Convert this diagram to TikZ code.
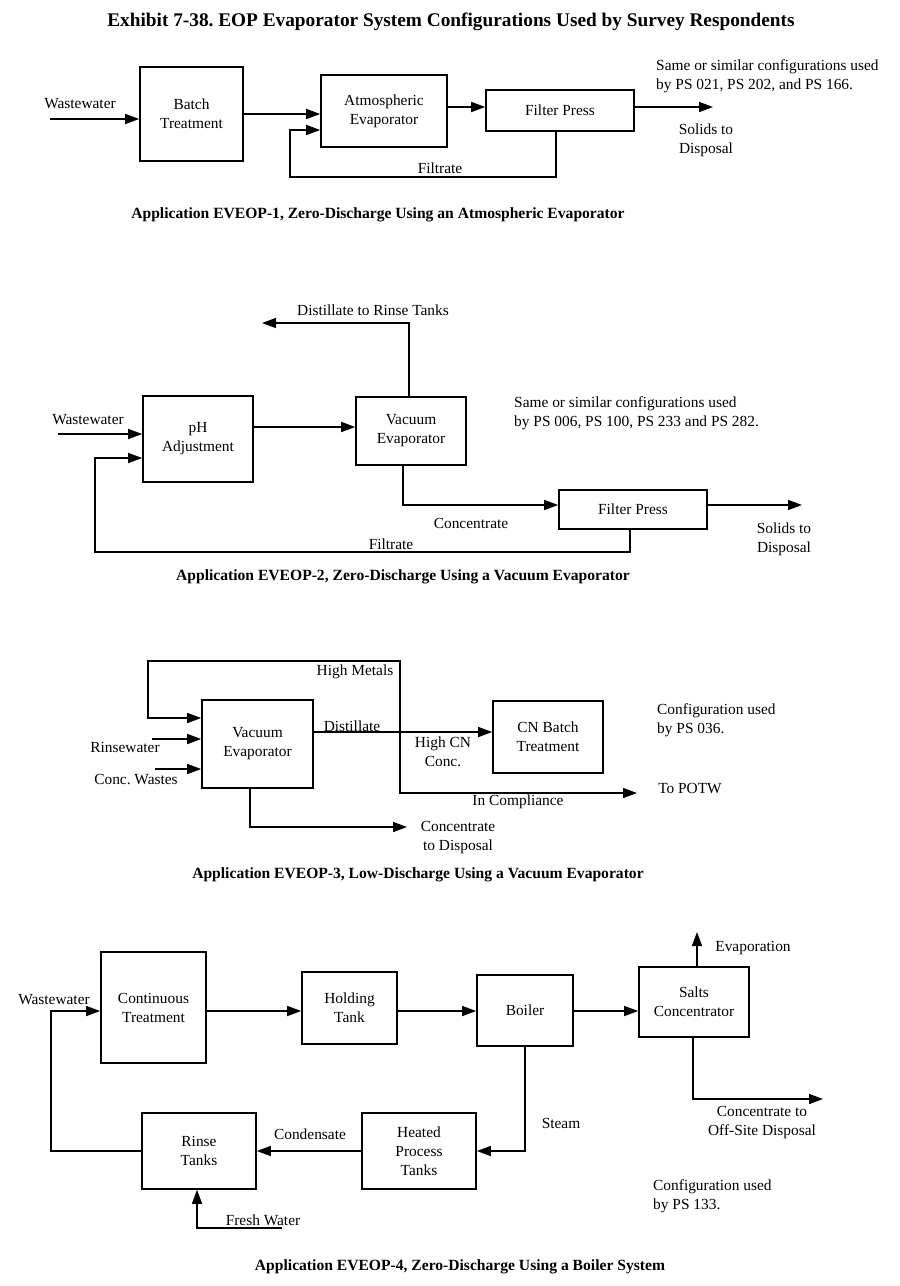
\documentclass[tikz,border=0pt]{standalone}
\usepackage{fontspec}
\setmainfont{Liberation Serif}
\usetikzlibrary{arrows.meta}
\usetikzlibrary{positioning}
\frenchspacing

\begin{document}
\begin{tikzpicture}[x=1pt,y=-1pt,
  font=\fontsize{15.4}{19}\selectfont,
  box/.style={draw,line width=1.6pt,align=center,inner sep=0pt},
  lbl/.style={inner sep=0pt,align=center},
  note/.style={inner sep=0pt,align=left,anchor=west},
  captxt/.style={inner sep=0pt,font=\fontsize{15.6}{18}\selectfont\bfseries},
  arr/.style={line width=1.5pt,-{Triangle[length=14pt,width=10pt]}}]
\useasboundingbox (0,0) rectangle (900,1286);

\node[captxt,font=\fontsize{19.3}{22}\selectfont\bfseries] (title) at (451,22)
  {Exhibit 7-38. EOP Evaporator System Configurations Used by Survey Respondents};

% EVEOP-1
\node[box,minimum width=103pt,minimum height=94pt] (batch) at (191.5,114) {Batch\\Treatment};
\node[box,minimum width=126pt,minimum height=72pt] (atmos) at (384,111) {Atmospheric\\Evaporator};
\node[box,minimum width=148pt,minimum height=41pt] (filt1) at (560,110.5) {Filter Press};
\coordinate (ww1) at (50,119);
\coordinate (sol1) at (713,107);
\coordinate (fb1) at (290,177);
\node[lbl] (ww1t) at (80,104) {Wastewater};
\node[lbl] (fil1t) at (440,168) {Filtrate};
\node[lbl] (sol1t) at (706,140) {Solids to\\Disposal};
\node[note] (ps1) at (656,76.5) {Same or similar configurations used\\by PS 021, PS 202, and PS 166.};
\node[captxt] (cap1) at (378,215) {Application EVEOP-1, Zero-Discharge Using an Atmospheric Evaporator};
\draw[arr] (ww1) -- (ww1 -| batch.west);
\draw[arr] (batch.east) -- (batch.east -| atmos.west);
\draw[arr] (atmos.east |- sol1) -- (filt1.west |- sol1);
\draw[arr] (filt1.east |- sol1) -- (sol1);
\draw[arr] ([xshift=-4pt]filt1.south) |- (fb1) |- ([yshift=-19pt]atmos.west);

% EVEOP-2
\node[box,minimum width=110pt,minimum height=86pt] (ph) at (198,439) {pH\\Adjustment};
\node[box,minimum width=110pt,minimum height=68pt] (vac2) at (411,431) {Vacuum\\Evaporator};
\node[box,minimum width=148pt,minimum height=39pt] (filt2) at (633,509.5) {Filter Press};
\coordinate (ww2) at (58,434);
\coordinate (dist2) at (262,323);
\coordinate (sol2) at (802,505);
\coordinate (fb2) at (95,552);
\node[lbl] (ww2t) at (88,420) {Wastewater};
\node[lbl] (dist2t) at (373,310) {Distillate to Rinse Tanks};
\node[lbl] (con2t) at (471,523) {Concentrate};
\node[lbl] (fil2t) at (391,544) {Filtrate};
\node[lbl] (sol2t) at (784,539) {Solids to\\Disposal};
\node[note] (ps2) at (514,413.5) {Same or similar configurations used\\by PS 006, PS 100, PS 233 and PS 282.};
\node[captxt] (cap2) at (403,577) {Application EVEOP-2, Zero-Discharge Using a Vacuum Evaporator};
\draw[arr] (ww2) -- (ww2 -| ph.west);
\draw[arr] ([yshift=4pt]vac2.west -| ph.east) -- ([yshift=4pt]vac2.west);
\draw[arr] ([xshift=-2pt]vac2.north) |- (dist2);
\draw[arr] ([xshift=-8pt]vac2.south) |- (filt2.west |- sol2);
\draw[arr] (filt2.east |- sol2) -- (sol2);
\draw[arr] ([xshift=-3pt]filt2.south) |- (fb2) |- ([yshift=-19pt]ph.west);

% EVEOP-3
\node[box,minimum width=111pt,minimum height=88pt] (vac3) at (257.5,744) {Vacuum\\Evaporator};
\node[box,minimum width=110pt,minimum height=72pt] (cn) at (548,737) {CN Batch\\Treatment};
\coordinate (sp3) at (400,732);
\coordinate (hm3) at (148,661);
\coordinate (potw) at (637,793);
\coordinate (rw3) at (152,739);
\coordinate (cw3) at (155,769);
\coordinate (cd3) at (407,827);
\node[lbl] (hm3t) at (355,672) {High Metals};
\node[lbl] (dis3t) at (352,726) {Distillate};
\node[lbl] (hcn) at (443,751.5) {High CN\\Conc.};
\node[lbl] (comp) at (518,802) {In Compliance};
\node[lbl] (potwt) at (690,789) {To POTW};
\node[lbl] (rw3t) at (125,747) {Rinsewater};
\node[lbl] (cw3t) at (136,780) {Conc. Wastes};
\node[lbl] (cd3t) at (458,837.5) {Concentrate\\to Disposal};
\node[note] (ps3) at (657,720.5) {Configuration used\\by PS 036.};
\node[captxt] (cap3) at (418,875) {Application EVEOP-3, Low-Discharge Using a Vacuum Evaporator};
\draw[arr] (vac3.east |- sp3) -- (cn.west |- sp3);
\draw[arr] (sp3) |- (hm3) |- ([yshift=26pt]vac3.west);
\draw[arr] (sp3) |- (potw);
\draw[arr] (rw3) -- (rw3 -| vac3.west);
\draw[arr] (cw3) -- (cw3 -| vac3.west);
\draw[arr] ([xshift=-7.5pt]vac3.south) |- (cd3);

% EVEOP-4
\node[box,minimum width=105pt,minimum height=111pt] (cont) at (153.5,1007.5) {Continuous\\Treatment};
\node[box,minimum width=95pt,minimum height=72pt] (hold) at (349.5,1008) {Holding\\Tank};
\node[box,minimum width=96pt,minimum height=71pt] (boil) at (525,1010.5) {Boiler};
\node[box,minimum width=110pt,minimum height=70pt] (salts) at (694,1002) {Salts\\Concentrator};
\node[box,minimum width=114pt,minimum height=76pt] (heat) at (419,1151) {Heated\\Process\\Tanks};
\node[box,minimum width=114pt,minimum height=76pt] (rinse) at (199,1151) {Rinse\\Tanks};
\coordinate (row4) at (0,1011);
\coordinate (ret4) at (51,1011);
\coordinate (evap) at (697,932);
\coordinate (off4) at (823,1099);
\coordinate (fw4) at (282,1228);
\node[lbl] (ww4t) at (54,1000) {Wastewater};
\node[lbl] (evapt) at (753,948) {Evaporation};
\node[lbl] (off4t) at (762,1122.5) {Concentrate to\\Off-Site Disposal};
\node[lbl] (stmt) at (561,1123) {Steam};
\node[lbl] (cndt) at (310,1134) {Condensate};
\node[lbl] (fw4t) at (263,1220) {Fresh Water};
\node[note] (ps4) at (653,1196.5) {Configuration used\\by PS 133.};
\node[captxt] (cap4) at (460,1267) {Application EVEOP-4, Zero-Discharge Using a Boiler System};
\draw[arr] (cont.east |- row4) -- (hold.west |- row4);
\draw[arr] (hold.east |- row4) -- (boil.west |- row4);
\draw[arr] (boil.east |- row4) -- (salts.west |- row4);
\draw[arr] (salts.north -| evap) -- (evap);
\draw[arr] ([xshift=-1pt]salts.south) |- (off4);
\draw[arr] (boil.south) |- (heat.east);
\draw[arr] (heat.west) -- (rinse.east);
\draw[arr] (rinse.west) -| (ret4) -- (cont.west |- row4);
\draw[arr] (fw4) -| ([xshift=-2pt]rinse.south);
\end{tikzpicture}
\end{document}
